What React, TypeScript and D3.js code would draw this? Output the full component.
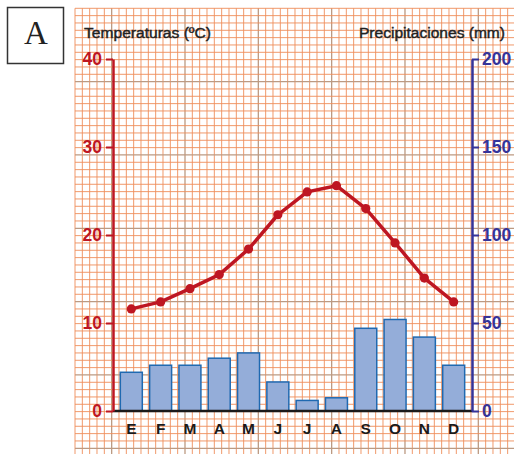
import * as d3 from "d3";
import { useEffect, useRef } from "react";

const months = ["E", "F", "M", "A", "M", "J", "J", "A", "S", "O", "N", "D"];
const temperatures = [11.6, 12.4, 13.9, 15.5, 18.4, 22.3, 24.9, 25.6, 23.0, 19.1, 15.1, 12.4];
const precipitation = [22, 26, 26, 30, 33, 16.5, 6, 7.5, 47, 52, 42, 26];
const tempTicks = [0, 10, 20, 30, 40];
const precTicks = [0, 50, 100, 150, 200];

const RED = "#be1622";
const BLUE = "#34349a";

export default function App() {
    const svgRef = useRef<SVGSVGElement>(null);
    const width = 514;
    const height = 454;

    useEffect(() => {
        if (svgRef.current) {
            drawChart();
        }
    }, [svgRef]);

    const drawChart = () => {
        const svg = d3.select(svgRef.current);
        svg.selectAll("*").remove();

        const left = 113;
        const right = 472;
        const top = 59;
        const bottom = 411;

        // month bands, index used as key since letters repeat
        const x = d3
            .scaleBand<number>()
            .domain(d3.range(months.length))
            .range([left, right])
            .paddingInner(0.25)
            .paddingOuter(0.25);
        const yT = d3.scaleLinear().domain([0, 40]).range([bottom, top]);
        const yP = d3.scaleLinear().domain([0, 200]).range([bottom, top]);

        drawPaper(svg);
        drawTitles(svg);

        // bars
        svg
            .append("g")
            .selectAll("rect")
            .data(precipitation)
            .enter()
            .append("rect")
            .attr("x", (d, i) => x(i)!)
            .attr("y", (d) => yP(d))
            .attr("width", x.bandwidth())
            .attr("height", (d) => bottom - yP(d))
            .attr("fill", "#94add9")
            .attr("stroke", "#1f69b1")
            .attr("stroke-width", 1.5);

        // x axis line
        svg
            .append("line")
            .attr("x1", left)
            .attr("x2", right)
            .attr("y1", bottom)
            .attr("y2", bottom)
            .attr("stroke", "#1a1a1a")
            .attr("stroke-width", 2.5);

        // month labels
        svg
            .append("g")
            .selectAll("text")
            .data(months)
            .enter()
            .append("text")
            .attr("x", (d, i) => x(i)! + x.bandwidth() / 2)
            .attr("y", 434)
            .attr("text-anchor", "middle")
            .attr("font-family", "Liberation Sans, Arial, sans-serif")
            .attr("font-weight", "bold")
            .attr("font-size", 15.5)
            .attr("fill", "#1a1a1a")
            .text((d) => d);

        // left axis (temperature)
        const axL = svg
            .append("g")
            .attr("transform", "translate(" + left + ",0)")
            .call(d3.axisLeft(yT).tickValues(tempTicks).tickSize(7).tickSizeOuter(0).tickPadding(4));
        styleAxis(axL, RED);

        // right axis (precipitation)
        const axR = svg
            .append("g")
            .attr("transform", "translate(" + right + ",0)")
            .call(d3.axisRight(yP).tickValues(precTicks).tickSize(7).tickSizeOuter(0).tickPadding(3));
        styleAxis(axR, BLUE);

        // temperature line
        const px = (i: number) => x(i)! + x.bandwidth() / 2;
        svg
            .append("path")
            .datum(temperatures)
            .attr("fill", "none")
            .attr("stroke", RED)
            .attr("stroke-width", 3.5)
            .attr("stroke-linejoin", "round")
            .attr(
                "d",
                d3
                    .line<number>()
                    .x((d, i) => px(i))
                    .y((d) => yT(d))
            );
        svg
            .append("g")
            .selectAll("circle")
            .data(temperatures)
            .enter()
            .append("circle")
            .attr("cx", (d, i) => px(i))
            .attr("cy", (d) => yT(d))
            .attr("r", 4.6)
            .attr("fill", RED);
    };

    const styleAxis = (g: any, color: string) => {
        g.select(".domain").attr("stroke", color).attr("stroke-width", 2.5);
        g.selectAll(".tick line").attr("stroke", color).attr("stroke-width", 2);
        g.selectAll(".tick text")
            .attr("fill", color)
            .attr("font-family", "Liberation Sans, Arial, sans-serif")
            .attr("font-weight", "bold")
            .attr("font-size", 17.5);
    };

    const drawPaper = (svg: any) => {
        const x0 = 75;
        const y0 = 8.3;
        const step = 7.333;
        const g = svg.append("g");
        const cols = d3.range(0, Math.ceil((width - x0) / step) + 1);
        const rows = d3.range(0, Math.ceil((height - y0) / step) + 1);
        g.append("rect")
            .attr("x", x0)
            .attr("y", y0)
            .attr("width", width - x0)
            .attr("height", height - y0)
            .attr("fill", "#ffffff");
        g.selectAll(".v")
            .data(cols)
            .enter()
            .append("line")
            .attr("x1", (d: number) => x0 + d * step)
            .attr("x2", (d: number) => x0 + d * step)
            .attr("y1", y0)
            .attr("y2", height)
            .attr("stroke", (d: number) => ((d - 5) % 10 === 0 ? "#bc9a82" : "#ee8d5a"))
            .attr("stroke-width", (d: number) => ((d - 5) % 10 === 0 ? 1.3 : 0.9));
        g.selectAll(".h")
            .data(rows)
            .enter()
            .append("line")
            .attr("x1", x0)
            .attr("x2", width)
            .attr("y1", (d: number) => y0 + d * step)
            .attr("y2", (d: number) => y0 + d * step)
            .attr("stroke", (d: number) => (d > 0 && d % 10 === 0 ? "#bc9a82" : "#ee8d5a"))
            .attr("stroke-width", (d: number) => (d > 0 && d % 10 === 0 ? 1.3 : 0.9));
    };

    const drawTitles = (svg: any) => {
        // letter box
        svg.append("rect")
            .attr("x", 7.5)
            .attr("y", 7.5)
            .attr("width", 56)
            .attr("height", 56)
            .attr("fill", "#ffffff")
            .attr("stroke", "#333333")
            .attr("stroke-width", 1.5);
        svg.append("text")
            .attr("x", 36)
            .attr("y", 44)
            .attr("text-anchor", "middle")
            .attr("font-family", "Liberation Serif, Times New Roman, serif")
            .attr("font-size", 33)
            .attr("fill", "#222222")
            .text("A");

        svg.append("text")
            .attr("x", 84)
            .attr("y", 38)
            .attr("font-family", "Liberation Sans, Arial, sans-serif")
            .attr("font-size", 14)
            .attr("fill", "#222222")
            .attr("stroke", "#222222")
            .attr("stroke-width", 0.4)
            .attr("textLength", 127)
            .attr("lengthAdjust", "spacingAndGlyphs")
            .text("Temperaturas (ºC)");
        svg.append("text")
            .attr("x", 505)
            .attr("y", 38)
            .attr("text-anchor", "end")
            .attr("font-family", "Liberation Sans, Arial, sans-serif")
            .attr("font-size", 14)
            .attr("fill", "#222222")
            .attr("stroke", "#222222")
            .attr("stroke-width", 0.4)
            .attr("textLength", 146)
            .attr("lengthAdjust", "spacingAndGlyphs")
            .text("Precipitaciones (mm)");
    };

    return (
        <svg
            ref={svgRef}
            width={width}
            height={height}
            style={{ position: "absolute", left: 0, top: 0, background: "#ffffff" }}
        />
    );
}
